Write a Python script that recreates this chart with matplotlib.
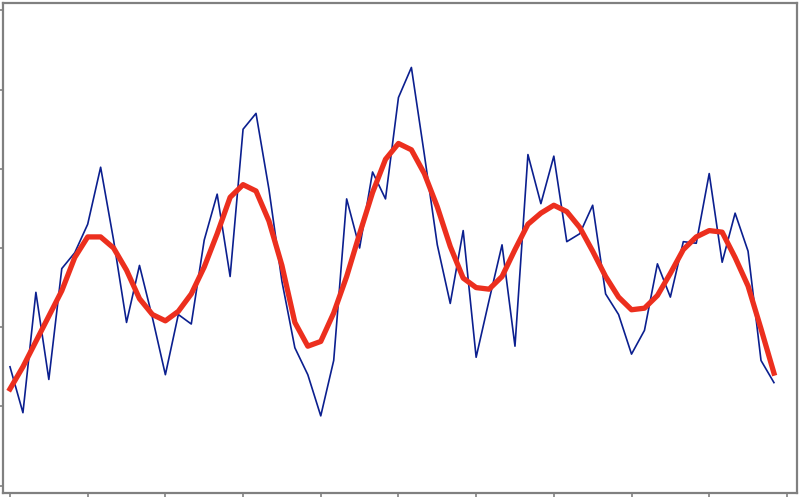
import numpy as np
import matplotlib.pyplot as plt

# sample positions: 60 samples, 6 per unit
x = np.arange(60) / 6

noisy = [-0.75, -1.04, -0.28, -0.83, -0.13, -0.03, 0.15, 0.51, 0.05, -0.47,
         -0.11, -0.44, -0.80, -0.42, -0.48, 0.05, 0.34, -0.18, 0.75, 0.85,
         0.37, -0.21, -0.63, -0.80, -1.06, -0.71, 0.31, 0.00, 0.48, 0.31,
         0.95, 1.14, 0.59, 0.02, -0.35, 0.11, -0.69, -0.33, 0.02, -0.62,
         0.59, 0.28, 0.58, 0.04, 0.09, 0.27, -0.29, -0.42, -0.67, -0.52,
         -0.10, -0.31, 0.04, 0.03, 0.47, -0.09, 0.22, -0.02, -0.71, -0.85]

smooth = [-0.89, -0.75, -0.59, -0.43, -0.27, -0.06, 0.07, 0.07, 0.00, -0.14,
          -0.32, -0.42, -0.46, -0.40, -0.29, -0.12, 0.09, 0.32, 0.40, 0.36,
          0.17, -0.11, -0.47, -0.62, -0.59, -0.41, -0.18, 0.09, 0.35, 0.56,
          0.66, 0.62, 0.47, 0.26, 0.01, -0.19, -0.25, -0.26, -0.18, -0.01,
          0.15, 0.22, 0.27, 0.23, 0.13, -0.02, -0.18, -0.31, -0.39, -0.38,
          -0.30, -0.16, -0.01, 0.07, 0.11, 0.10, -0.06, -0.24, -0.51, -0.79]

fig = plt.figure(figsize=(8, 4.98), dpi=100)
ax = fig.add_axes([3 / 800, 5 / 498, 794 / 800, 490 / 498])

ax.plot(x, noisy, color='#0b1f8f', linewidth=1.2)
ax.plot(x, smooth, color='#ec2f1e', linewidth=3.8)

ax.set_xlim(-0.09, 10.13)
ax.set_ylim(-1.547, 1.547)
ax.set_xticks(np.arange(0, 11))
ax.set_yticks(np.arange(-1.5, 1.51, 0.5))
ax.set_xticklabels([])
ax.set_yticklabels([])
ax.tick_params(direction='out', length=3, width=1.2, color='#808080')
for s in ax.spines.values():
    s.set_color('#808080')
    s.set_linewidth(1.6)

fig.savefig('out.png', dpi=100)
